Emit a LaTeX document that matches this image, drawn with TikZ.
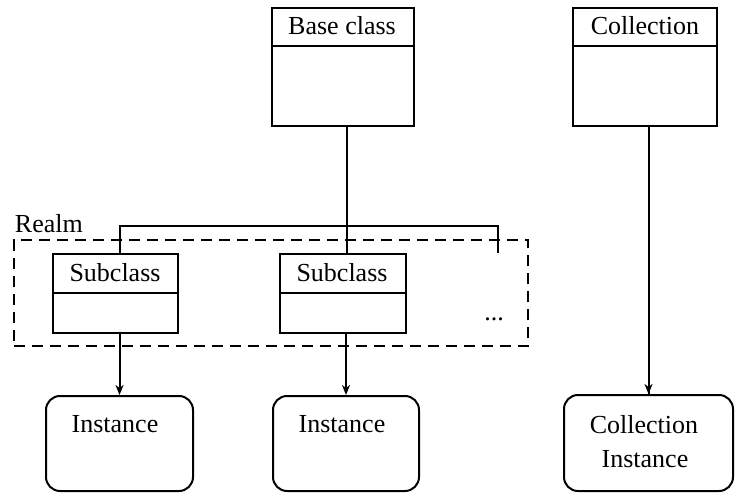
\documentclass[tikz,border=0pt]{standalone}
\usepackage{fontspec}
\setmainfont{Liberation Serif}
\usetikzlibrary{arrows.meta,calc}
\begin{document}
\begin{tikzpicture}[x=1pt,y=-1pt,line width=2pt,
  txt/.style={font=\fontsize{26}{31}\selectfont,inner sep=0pt},
  classbox/.style={draw,rectangle,inner sep=0pt},
  instbox/.style={draw,rectangle,rounded corners=14pt,inner sep=0pt},
  realm/.style={draw,dashed,dash pattern=on 11pt off 7pt,line width=2pt},
  arr/.style={-{Stealth[length=10pt,width=8pt,inset=3pt]}}]
\useasboundingbox (0,0) rectangle (737,497);

% class boxes (title band + body)
\node[classbox,minimum width=142pt,minimum height=118pt] (base) at (343,67) {};
\node[classbox,minimum width=144pt,minimum height=118pt] (coll) at (645,67) {};
\node[classbox,minimum width=125pt,minimum height=79pt] (sub1) at (115.5,293.5) {};
\node[classbox,minimum width=126pt,minimum height=79pt] (sub2) at (343,293.5) {};
\draw ($(base.north west)+(0,39.5)$) -- ($(base.north east)+(0,39.5)$);
\draw ($(coll.north west)+(0,39.5)$) -- ($(coll.north east)+(0,39.5)$);
\draw ($(sub1.north west)+(0,40)$) -- ($(sub1.north east)+(0,40)$);
\draw ($(sub2.north west)+(0,40)$) -- ($(sub2.north east)+(0,40)$);

\node[txt,anchor=base] (basetitle) at (342,35) {Base class};
\node[txt,anchor=base] (colltitle) at (645,35) {Collection};
\node[txt,anchor=base] (sub1title) at (115,282) {Subclass};
\node[txt,anchor=base] (sub2title) at (342,282) {Subclass};

% instances
\node[instbox,minimum width=147pt,minimum height=95pt] (inst1) at (119.5,443.5) {};
\node[instbox,minimum width=146pt,minimum height=95pt] (inst2) at (346,443.5) {};
\node[instbox,minimum width=169pt,minimum height=96pt] (cinst) at (648.5,443) {};
\node[txt,anchor=base] (inst1text) at (115,432) {Instance};
\node[txt,anchor=base] (inst2text) at (342,432) {Instance};
\node[txt,anchor=base] (cinsttext1) at (644,433) {Collection};
\node[txt,anchor=base] (cinsttext2) at (645,467) {Instance};

% realm frame
\node[realm,rectangle,inner sep=0pt,minimum width=514.5pt,minimum height=105.5pt] (realmbox) at (270.75,293.25) {};
\node[txt,anchor=base west] (realmlabel) at (14,233) {Realm};
\node[txt,anchor=base] (more) at (494,321) {...};

% inheritance tree
\coordinate (jbase) at (347,226);
\coordinate (jleft) at (120,226);
\coordinate (jright) at (498,226);
\coordinate (jrightend) at (498,253);
\draw (jbase |- base.south) -- (jbase |- sub2.north);
\draw (jleft |- sub1.north) -- (jleft) -- (jright) -- (jrightend);
\draw (coll.south -| cinst.north) -- (cinst.north);

% instantiation arrows
\draw[arr] (inst1.north |- sub1.south) -- (inst1.north);
\draw[arr] (inst2.north |- sub2.south) -- (inst2.north);
\draw[arr] (cinst.north |- coll.south) -- (cinst.north);
\end{tikzpicture}
\end{document}
